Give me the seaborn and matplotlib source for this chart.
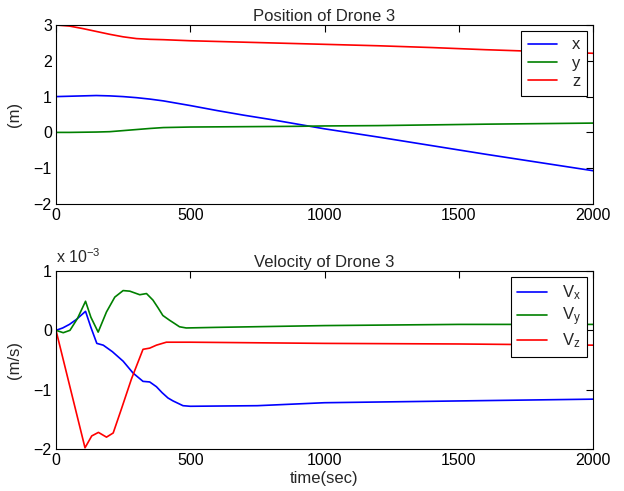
import matplotlib
matplotlib.use("Agg")
import matplotlib.pyplot as plt
import seaborn as sns

# Position of drone 3 (m)
pos_t = [0, 50, 100, 150, 200, 250, 300, 350, 400, 500, 600, 700, 800, 900,
         1000, 1200, 1400, 1600, 1800, 2000]
pos_x = [1.00, 1.01, 1.02, 1.03, 1.02, 1.00, 0.97, 0.93, 0.88, 0.75, 0.61,
         0.48, 0.36, 0.23, 0.10, -0.13, -0.37, -0.61, -0.84, -1.07]
pos_y = [0.0, 0.0, 0.005, 0.01, 0.02, 0.05, 0.08, 0.11, 0.135, 0.15, 0.155,
         0.16, 0.165, 0.17, 0.18, 0.19, 0.21, 0.23, 0.245, 0.26]
pos_z = [3.00, 2.97, 2.90, 2.82, 2.74, 2.67, 2.62, 2.60, 2.59, 2.56, 2.54,
         2.52, 2.50, 2.48, 2.46, 2.42, 2.37, 2.31, 2.26, 2.21]

# Velocity of drone 3 (x 10^-3 m/s)
vx_t = [0, 25, 50, 75, 110, 130, 152, 176, 210, 250, 287, 324, 349, 374, 395,
        417, 436, 473, 500, 750, 1000, 1500, 2000]
vx = [0.0, 0.04, 0.10, 0.18, 0.32, 0.05, -0.22, -0.25, -0.36, -0.52, -0.72,
      -0.86, -0.87, -0.95, -1.05, -1.14, -1.19, -1.27, -1.28, -1.27, -1.22,
      -1.19, -1.16]
vy_t = [0, 27, 52, 80, 110, 130, 157, 188, 219, 250, 275, 312, 337, 361, 380,
        398, 423, 440, 460, 485, 597, 1000, 1500, 2000]
vy = [0.0, -0.04, 0.0, 0.20, 0.49, 0.22, -0.03, 0.31, 0.56, 0.67, 0.66, 0.60,
      0.62, 0.51, 0.38, 0.25, 0.17, 0.12, 0.06, 0.04, 0.05, 0.08, 0.10, 0.10]
vz_t = [0, 108, 133, 158, 188, 213, 244, 281, 324, 349, 374, 411, 500, 1000,
        1500, 2000]
vz = [0.0, -1.98, -1.78, -1.72, -1.80, -1.73, -1.32, -0.82, -0.32, -0.30,
      -0.25, -0.20, -0.20, -0.22, -0.23, -0.25]

x_ticks = [0, 500, 1000, 1500, 2000]

sns.set_style("white")
plt.rcParams["font.family"] = ["Liberation Sans", "DejaVu Sans"]
plt.rcParams["font.size"] = 11.5
plt.rcParams["mathtext.fontset"] = "custom"
plt.rcParams["mathtext.rm"] = "Liberation Sans"
plt.rcParams["mathtext.it"] = "Liberation Sans"

BLUE, GREEN, RED = "#0000ff", "#008000", "#ff0000"

fig = plt.figure(figsize=(6.24, 4.91), dpi=100)
ax1 = fig.add_axes([56 / 624, 1 - 204 / 491, 537 / 624, 179 / 491])
ax2 = fig.add_axes([56 / 624, 1 - 449 / 491, 537 / 624, 178 / 491])

sns.lineplot(x=pos_t, y=pos_x, ax=ax1, color=BLUE, lw=1.2, label="x")
sns.lineplot(x=pos_t, y=pos_y, ax=ax1, color=GREEN, lw=1.2, label="y")
sns.lineplot(x=pos_t, y=pos_z, ax=ax1, color=RED, lw=1.2, label="z")

sns.lineplot(x=vx_t, y=vx, ax=ax2, color=BLUE, lw=1.2, label="$V_x$")
sns.lineplot(x=vy_t, y=vy, ax=ax2, color=GREEN, lw=1.2, label="$V_y$")
sns.lineplot(x=vz_t, y=vz, ax=ax2, color=RED, lw=1.2, label="$V_z$")

for ax in (ax1, ax2):
    ax.set_xlim(0, 2000)
    ax.set_xticks(x_ticks)
    ax.tick_params(direction="in", length=5, width=0.8, top=True, right=True,
                   labelsize=11.5, pad=3, colors="black")
    for sp in ax.spines.values():
        sp.set_visible(True)
        sp.set_color("black")
        sp.set_linewidth(0.8)
    leg = ax.legend(loc="upper right", fancybox=False, framealpha=1,
                    edgecolor="black", borderaxespad=0.35, handlelength=1.75,
                    handletextpad=0.9, labelspacing=0.2, fontsize=12,
                    borderpad=0.4)
    leg.get_frame().set_linewidth(0.8)

ax1.set_ylim(-2, 3)
ax1.set_yticks([-2, -1, 0, 1, 2, 3])
ax1.set_title("Position of Drone 3", fontsize=12, pad=3)
ax1.set_ylabel("(m)", fontsize=12, labelpad=8)

ax2.set_ylim(-2, 1)
ax2.set_yticks([-2, -1, 0, 1])
ax2.set_title("Velocity of Drone 3", fontsize=12, pad=3)
ax2.set_ylabel("(m/s)", fontsize=12, labelpad=8)
ax2.set_xlabel("time(sec)", fontsize=12, labelpad=2)
ax2.text(0, 1.03, "x 10$^{-3}$", transform=ax2.transAxes, fontsize=11.5,
         ha="left", va="bottom")

fig.savefig("out.png", dpi=100, facecolor="white")
